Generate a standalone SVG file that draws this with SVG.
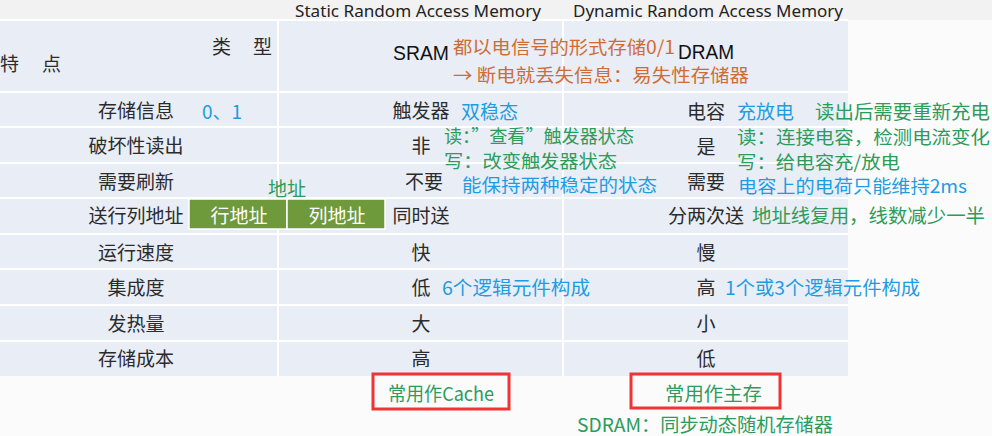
<svg xmlns="http://www.w3.org/2000/svg" width="992" height="436" viewBox="0 0 992 436">
<style>
.cn{font-family:"Noto Sans CJK SC","Noto Sans",sans-serif;font-size:19px;dominant-baseline:central}
.s{font-size:18px}
.k{fill:#2b2b2b}
.m{text-anchor:middle}
.g{fill:#2c9c5a}
.b{fill:#1e9ce2}
.o{fill:#cf6c34}
.w{fill:#ffffff}
.en{font-family:"Noto Sans","Liberation Sans",sans-serif;font-size:17px;fill:#222}
.ar{font-family:"Liberation Sans",Arial,sans-serif;font-size:20px;fill:#111}
.grid line{stroke:#ffffff;stroke-width:2}
.redbox{fill:none;stroke:#f03434;stroke-width:3}
.addr{fill:#6f9a3b;stroke:#ffffff;stroke-width:1.5}
</style>
<rect x="0" y="0" width="992" height="436" fill="#fbfbfc"/>
<rect x="0" y="0" width="992" height="20" fill="#f2f2f2"/>
<g id="table">
<rect x="0" y="20" width="848" height="356" fill="#e9edf6"/>
<g class="grid">
<line x1="0" y1="20" x2="848" y2="20"/>
<line x1="0" y1="92" x2="848" y2="92"/>
<line x1="0" y1="127" x2="848" y2="127"/>
<line x1="0" y1="163" x2="848" y2="163"/>
<line x1="0" y1="198" x2="848" y2="198"/>
<line x1="0" y1="234" x2="848" y2="234"/>
<line x1="0" y1="269" x2="848" y2="269"/>
<line x1="0" y1="305" x2="848" y2="305"/>
<line x1="0" y1="341" x2="848" y2="341"/>
<line x1="278" y1="20" x2="278" y2="376"/>
<line x1="563" y1="20" x2="563" y2="376"/>
</g>
</g>
<g id="titles">
<text class="en" x="295" y="17" textLength="246" lengthAdjust="spacingAndGlyphs">Static Random Access Memory</text>
<text class="en" x="573" y="17" textLength="270" lengthAdjust="spacingAndGlyphs">Dynamic Random Access Memory</text>
</g>
<g id="header">
<text class="cn k" x="212" y="45">类</text>
<text class="cn k" x="253" y="45">型</text>
<text class="cn k" x="0" y="62">特</text>
<text class="cn k" x="42" y="62">点</text>
<text class="ar" x="393" y="60" textLength="56" lengthAdjust="spacingAndGlyphs">SRAM</text>
<text class="ar" x="678" y="59" textLength="56" lengthAdjust="spacingAndGlyphs">DRAM</text>
<text class="cn s o" x="453" y="46" textLength="222" lengthAdjust="spacingAndGlyphs">都以电信号的形式存储0/1</text>
<text class="cn s o" x="453" y="74" textLength="296" lengthAdjust="spacingAndGlyphs">→ 断电就丢失信息：易失性存储器</text>
</g>
<g id="row-info">
<text class="cn k m" x="136" y="109">存储信息</text>
<text class="cn b" x="202" y="110">0、1</text>
<text class="cn k m" x="421" y="109">触发器</text>
<text class="cn b" x="461" y="110">双稳态</text>
<text class="cn k m" x="706" y="110">电容</text>
<text class="cn b" x="737" y="110">充放电</text>
<text class="cn g" x="815" y="110" textLength="175" lengthAdjust="spacingAndGlyphs">读出后需要重新充电</text>
</g>
<g id="row-destructive">
<text class="cn k m" x="136" y="144">破坏性读出</text>
<text class="cn k m" x="421" y="144">非</text>
<text class="cn s g" x="444" y="135" textLength="190" lengthAdjust="spacingAndGlyphs">读：”查看”触发器状态</text>
<text class="cn s g" x="444" y="160" textLength="173" lengthAdjust="spacingAndGlyphs">写：改变触发器状态</text>
<text class="cn k m" x="706" y="145">是</text>
<text class="cn s g" x="737" y="136" textLength="253" lengthAdjust="spacingAndGlyphs">读：连接电容，检测电流变化</text>
<text class="cn s g" x="737" y="161" textLength="163" lengthAdjust="spacingAndGlyphs">写：给电容充/放电</text>
</g>
<g id="row-refresh">
<text class="cn k m" x="136" y="180">需要刷新</text>
<text class="cn k m" x="424" y="180">不要</text>
<text class="cn s b" x="462" y="184" textLength="195" lengthAdjust="spacingAndGlyphs">能保持两种稳定的状态</text>
<text class="cn k m" x="706" y="180">需要</text>
<text class="cn s b" x="738" y="185" textLength="229" lengthAdjust="spacingAndGlyphs">电容上的电荷只能维持2ms</text>
</g>
<g id="row-address">
<text class="cn k m" x="136" y="214">送行列地址</text>
<text class="cn g" x="268" y="187">地址</text>
<g id="addr-row">
<rect class="addr" x="189" y="199" width="98" height="30"/>
<text class="cn w m" x="239" y="214">行地址</text>
</g>
<g id="addr-col">
<rect class="addr" x="287" y="199" width="98" height="30"/>
<text class="cn w m" x="337" y="214">列地址</text>
</g>
<text class="cn k m" x="421" y="214">同时送</text>
<text class="cn k m" x="706" y="214">分两次送</text>
<text class="cn g" x="752" y="214" textLength="233" lengthAdjust="spacingAndGlyphs">地址线复用，线数减少一半</text>
</g>
<g id="row-speed">
<text class="cn k m" x="136" y="251">运行速度</text>
<text class="cn k m" x="421" y="251">快</text>
<text class="cn k m" x="706" y="251">慢</text>
</g>
<g id="row-integration">
<text class="cn k m" x="136" y="286">集成度</text>
<text class="cn k m" x="421" y="286">低</text>
<text class="cn b" x="442" y="286" textLength="148" lengthAdjust="spacingAndGlyphs">6个逻辑元件构成</text>
<text class="cn k m" x="706" y="286">高</text>
<text class="cn b" x="725" y="286" textLength="195" lengthAdjust="spacingAndGlyphs">1个或3个逻辑元件构成</text>
</g>
<g id="row-heat">
<text class="cn k m" x="136" y="322">发热量</text>
<text class="cn k m" x="421" y="322">大</text>
<text class="cn k m" x="706" y="322">小</text>
</g>
<g id="row-cost">
<text class="cn k m" x="136" y="357">存储成本</text>
<text class="cn k m" x="421" y="357">高</text>
<text class="cn k m" x="706" y="357">低</text>
</g>
<g id="use-cache">
<rect class="redbox" x="373" y="374" width="136" height="35"/>
<text class="cn g" x="388" y="392" textLength="106" lengthAdjust="spacingAndGlyphs">常用作Cache</text>
</g>
<g id="use-main">
<rect class="redbox" x="631" y="374" width="149" height="34"/>
<text class="cn g" x="665" y="392" textLength="97" lengthAdjust="spacingAndGlyphs">常用作主存</text>
</g>
<g id="sdram">
<text class="cn g" x="577" y="423" textLength="256" lengthAdjust="spacingAndGlyphs">SDRAM：同步动态随机存储器</text>
</g>
</svg>
